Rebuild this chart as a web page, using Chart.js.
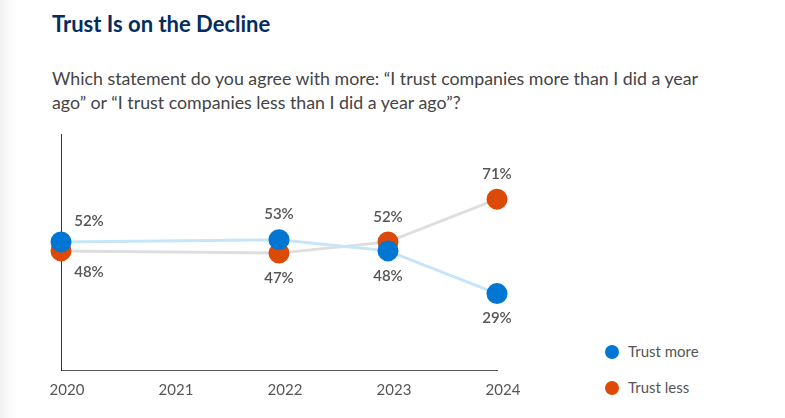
<!DOCTYPE html>
<html>
<head>
<meta charset="utf-8">
<script src="https://cdn.jsdelivr.net/npm/chart.js@4"></script>
<style>
  body { margin: 0; background: #fff; font-family: Lato, sans-serif; }
  #page { position: relative; width: 785px; height: 418px; overflow: hidden;
          background: linear-gradient(to right, #f1f1f1 0px, #fbfbfb 10px, #fff 18px); }
  h1 { position: absolute; left: 52px; top: 10px; margin: 0; font-size: 22px; font-weight: 700; color: #032d60; }
  p.sub { position: absolute; left: 52px; top: 66px; margin: 0; width: 650px; font-size: 17.8px; line-height: 24px; color: #444; }
  #wrap { position: absolute; left: 0; top: 122px; width: 530px; height: 290px; }
  .legend { position: absolute; left: 605px; font-size: 15px; color: #555; }
  .legend span { display: inline-block; width: 14px; height: 14px; border-radius: 50%; vertical-align: -2px; margin-right: 9px; }
</style>
</head>
<body>
<div id="page">
  <h1>Trust Is on the Decline</h1>
  <p class="sub">Which statement do you agree with more: “I trust companies more than I did a year ago” or “I trust companies less than I did a year ago”?</p>
  <div id="wrap"><canvas id="trustChart"></canvas></div>
  <div class="legend" style="top:342px"><span style="background:#0176d3"></span>Trust more</div>
  <div class="legend" style="top:378px"><span style="background:#dd4a07"></span>Trust less</div>
</div>
<script>
let years = ["2020", "2021", "2022", "2023", "2024"];
let trustMore = [52, null, 53, 48, 29];
let trustLess = [48, null, 47, 52, 71];

// draws the "52%" style labels above the higher point and below the lower one
var valueLabels = {
    id: 'valueLabels',
    afterDatasetsDraw: function(chart) {
        var ctx = chart.ctx;
        ctx.save();
        ctx.font = '600 15px Lato, sans-serif';
        ctx.fillStyle = '#555';
        ctx.textAlign = 'center';
        ctx.textBaseline = 'middle';
        chart.data.datasets.forEach(function(ds, di) {
            var meta = chart.getDatasetMeta(di);
            meta.data.forEach(function(pt, i) {
                var v = ds.data[i];
                if (v == null) return;
                var other = chart.data.datasets[1 - di].data[i];
                var up = v >= other;
                var x = pt.x + (i == 0 ? 28 : 0);
                var off = (i == 0 ? 21 : 25);
                var y = pt.y + (up ? -off : off);
                ctx.fillText(v + '%', x, y);
            });
        });
        ctx.restore();
    }
};

var ctx = document.getElementById('trustChart').getContext('2d');
var config = {
    type: 'line',
    data: {
        labels: years,
        datasets: [{
            label: 'Trust more',
            data: trustMore,
            borderColor: '#c6e5f9',
            borderWidth: 3,
            pointBackgroundColor: '#0176d3',
            pointBorderColor: '#0176d3',
            pointRadius: 9,
            spanGaps: true,
            clip: false
        }, {
            label: 'Trust less',
            data: trustLess,
            borderColor: '#dedede',
            borderWidth: 3,
            pointBackgroundColor: '#dd4a07',
            pointBorderColor: '#dd4a07',
            pointRadius: 9,
            spanGaps: true,
            clip: false
        }]
    },
    options: {
        responsive: true,
        maintainAspectRatio: false,
        animation: false,
        layout: { padding: { left: 61, top: 3, right: 33, bottom: 2 } },
        plugins: { legend: { display: false }, tooltip: { enabled: false } },
        scales: {
            x: {
                grid: { display: false, drawTicks: false },
                border: { display: true, color: '#555', width: 1 },
                ticks: { color: '#555', font: { family: 'Lato', size: 15 }, padding: 11, labelOffset: 6 }
            },
            y: {
                min: -5,
                max: 100,
                grid: { display: false, drawTicks: false },
                border: { display: true, color: '#333', width: 1 },
                ticks: { display: false }
            }
        }
    },
    plugins: [valueLabels]
};

var chart = new Chart(ctx, config);
</script>
</body>
</html>
